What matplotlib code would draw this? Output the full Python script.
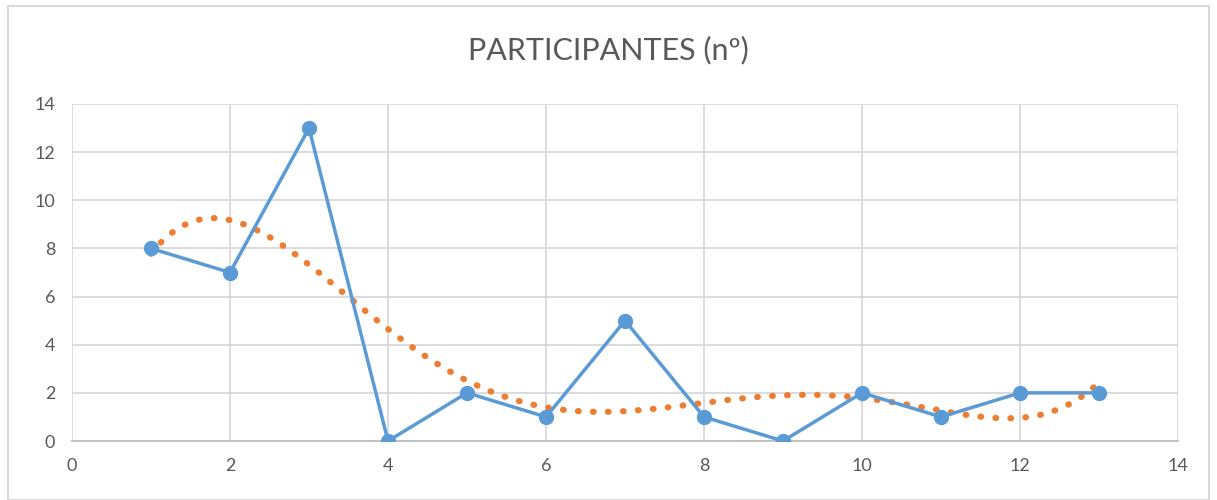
import matplotlib.pyplot as plt
import numpy as np
from matplotlib.patches import Rectangle

plt.rcParams['font.family'] = ['Lato', 'DejaVu Sans']

x = [1, 2, 3, 4, 5, 6, 7, 8, 9, 10, 11, 12, 13]
participantes = [8, 7, 13, 0, 2, 1, 5, 1, 0, 2, 1, 2, 2]
title = 'PARTICIPANTES (nº)'

# tendencia polinomica (orden 5), como la de Excel
coefs = np.polyfit(x, participantes, 5)
xs = np.linspace(1, 13, 300)
trend = np.polyval(coefs, xs)

fig = plt.figure(figsize=(12.17, 5), dpi=100)
fig.patches.append(Rectangle((8 / 1217, 0), 1 - 16 / 1217, 1 - 6 / 500, transform=fig.transFigure,
                             fill=False, edgecolor='#d9d9d9', linewidth=1.5))
ax = fig.add_axes([72 / 1217, 59 / 500, (1178 - 72) / 1217, (441 - 104) / 500])

ax.plot(xs, trend, linestyle=(0, (0.1, 2.3)), dash_capstyle='round', color='#ed7d31',
        linewidth=4.5, zorder=2)
ax.plot(x, participantes, color='#5b9bd5', linewidth=2.5, marker='o', markersize=10, zorder=3)

ax.set_xlim(0, 14)
ax.set_ylim(0, 14)
ax.set_xticks(range(0, 15, 2))
ax.set_yticks(range(0, 15, 2))
ax.grid(True, color='#d9d9d9', linewidth=1.3)
ax.set_axisbelow(True)
for side in ['top', 'right', 'left']:
    ax.spines[side].set_visible(False)
ax.spines['bottom'].set_color('#bfbfbf')
ax.spines['bottom'].set_linewidth(1.3)
ax.tick_params(length=0, labelsize=13, colors='#595959', pad=12)

fig.text(0.5, 0.9, title, ha='center', va='center', fontsize=22, color='#595959')

plt.savefig('out.png', dpi=100)
plt.close()
